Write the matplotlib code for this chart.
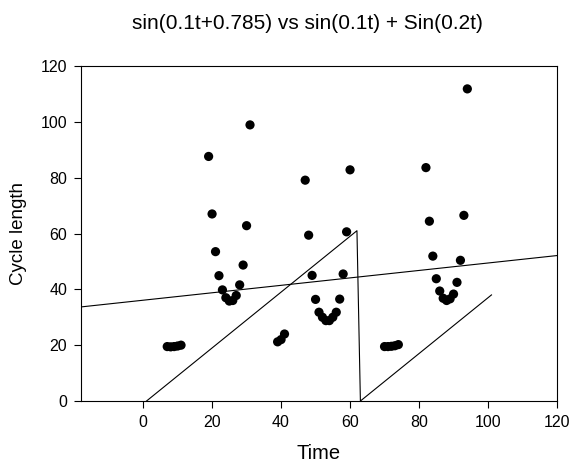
import matplotlib
matplotlib.use("Agg")
import matplotlib.pyplot as plt

plt.rcParams['font.family'] = ['Liberation Sans', 'DejaVu Sans']

# scatter data: time, cycle length
t_pts = [7, 8, 9, 10, 11,
         19, 20, 21, 22, 23, 24, 25, 26, 27, 28, 29, 30, 31,
         39, 40, 41,
         47, 48, 49, 50, 51, 52, 53, 54, 55, 56, 57, 58, 59, 60,
         70, 71, 72, 73, 74,
         82, 83, 84, 85, 86, 87, 88, 89, 90, 91, 92, 93, 94]
cycle = [19.5, 19.4, 19.5, 19.7, 20.0,
         87.6, 67.0, 53.5, 44.9, 39.8, 37.0, 35.8, 36.0, 37.8, 41.6, 48.7, 62.8, 98.9,
         21.2, 22.0, 24.0,
         79.1, 59.4, 45.0, 36.4, 31.8, 30.0, 28.8, 28.8, 30.0, 31.8, 36.5, 45.5, 60.6, 82.8,
         19.5, 19.5, 19.6, 19.8, 20.2,
         83.6, 64.4, 51.9, 43.8, 39.4, 36.8, 36.0, 36.6, 38.3, 42.5, 50.4, 66.5, 111.8]

# sawtooth line
saw_x = [1, 62, 63, 101]
saw_y = [0, 61, 0, 38]

# straight trend line
trend_x = [-18, 120]
trend_y = [33.7, 52.1]

xticks = [0, 20, 40, 60, 80, 100, 120]
yticks = [0, 20, 40, 60, 80, 100, 120]

fig = plt.figure(figsize=(5.72, 4.67), dpi=100)
ax = fig.add_axes([0.1416, 0.1413, 0.8322, 0.7174])

ax.plot(trend_x, trend_y, color='black', linewidth=0.8)
ax.plot(saw_x, saw_y, color='black', linewidth=0.8)
ax.scatter(t_pts, cycle, s=44, color='black', zorder=3, edgecolors='none')

ax.set_xlim(-18, 120)
ax.set_ylim(0, 120)
ax.set_xticks(xticks)
ax.set_yticks(yticks)
ax.tick_params(direction='out', length=5, width=0.8, labelsize=11.5, top=False, right=False, pad=5)
for sp in ax.spines.values():
    sp.set_linewidth(0.8)

ax.set_xlabel('Time', fontsize=14.5, labelpad=10)
ax.set_ylabel('Cycle length', fontsize=13.5, labelpad=10)
fig.text(0.538, 0.95, 'sin(0.1t+0.785) vs sin(0.1t) + Sin(0.2t)', ha='center', va='center', fontsize=15)

fig.savefig('out.png', dpi=100)
